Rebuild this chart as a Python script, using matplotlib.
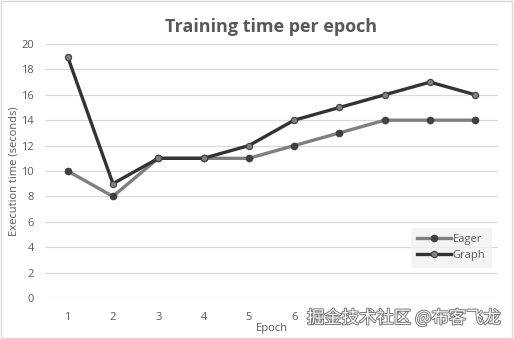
import matplotlib.pyplot as plt
import matplotlib.patheffects as pe

epochs = ['1', '2', '3', '4', '5', '6', '7', '8', '9', '10']
eager = [10, 8, 11, 11, 11, 12, 13, 14, 14, 14]
graph = [19, 9, 11, 11, 12, 14, 15, 16, 17, 16]
# labels 7-10 are hidden behind the watermark in the original
visible_labels = 6

plt.rcParams['font.family'] = ['Open Sans', 'DejaVu Sans']

fig = plt.figure(figsize=(5.14, 3.39), dpi=100)
ax = fig.add_axes([45/514, 1-298/339, 453/514, 254/339])

x = list(range(1, len(epochs) + 1))
ax.plot(x, eager, color='#7f7f7f', lw=2.4, marker='o', ms=4.5,
        mfc='#404040', mec='#404040', label='Eager', zorder=3)
ax.plot(x, graph, color='#333333', lw=2.4, marker='o', ms=4.5,
        mfc='#808080', mec='#404040', mew=0.8, label='Graph', zorder=4)

ax.set_xlim(0.5, len(epochs) + 0.5)
ax.set_ylim(0, 20)
ax.set_yticks(range(0, 21, 2))
ax.set_xticks(x)
ax.set_xticklabels([e if i < visible_labels else '' for i, e in enumerate(epochs)])
ax.grid(axis='y', color='#d9d9d9', lw=0.8)
ax.set_axisbelow(True)
for s in ax.spines.values():
    s.set_visible(False)
ax.tick_params(length=0, labelsize=8, labelcolor='#595959')
ax.tick_params(axis='x', pad=10)
ax.tick_params(axis='y', pad=8)

ax.set_title('Training time per epoch', fontsize=13, fontweight='bold',
             color='#595959', pad=9)
ax.set_xlabel('Epoch', fontsize=8, color='#595959', labelpad=0)
ax.set_ylabel('Execution time (seconds)', fontsize=8, color='#595959', labelpad=1)

leg = ax.legend(loc='lower right', bbox_to_anchor=(0.987, 0.118), fontsize=8,
                frameon=True, fancybox=False, handlelength=3, labelspacing=0.45,
                borderpad=0.6, handletextpad=0.2, borderaxespad=0)
leg.get_frame().set_facecolor('#f2f2f2')
leg.get_frame().set_edgecolor('none')
for t in leg.get_texts():
    t.set_color('#595959')

# watermark
fig.text(404/514, 1-318/339, '掘金技术社区 @布客飞龙', ha='center', va='center',
         fontsize=12.5, color='white', family=['Noto Sans CJK SC', 'DejaVu Sans'],
         path_effects=[pe.withStroke(linewidth=1.3, foreground='#707070')])

border = plt.Rectangle((0.002, 0.003), 0.995, 0.994, transform=fig.transFigure,
                       fill=False, edgecolor='#d9d9d9', lw=1)
fig.patches.append(border)

fig.savefig('out.png', dpi=100)
